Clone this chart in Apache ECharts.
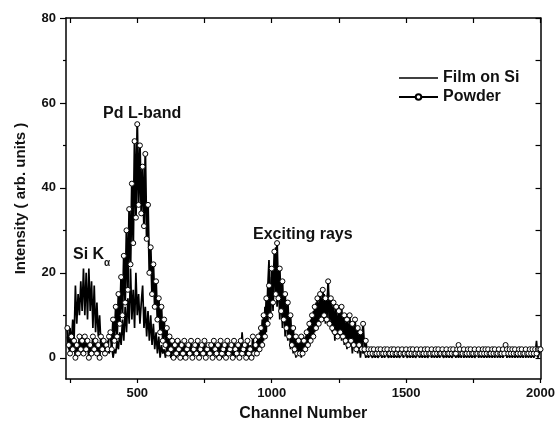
<!DOCTYPE html>
<html>
<head>
<meta charset="utf-8">
<script src="https://cdn.jsdelivr.net/npm/echarts@6/dist/echarts.min.js"></script>
<style>
    html, body { margin: 0; padding: 0; background: #fff; }
    #chart { width: 558px; height: 427px; }
</style>
</head>
<body>
<div id="chart"></div>
<script>
// channel grid of the spectra: first channel and spacing
var chStart = 240;
var chStep = 5;

// counts, rows of 100 channels (first row 240-295, last value is 2000)
var filmCounts = [
    5, 2, 7, 3, 9, 4, 17, 8, 15, 10, 18, 11,
    21, 10, 20, 9, 21, 11, 18, 7, 17, 6, 13, 5, 10, 3, 5, 1, 4, 2, 4, 1,
    1, 3, 0, 2, 1, 4, 2, 6, 3, 9, 4, 12, 6, 14, 8, 21, 9, 16, 7, 20,
    10, 15, 8, 13, 17, 7, 12, 5, 11, 4, 10, 3, 8, 2, 6, 1, 5, 0, 3, 1,
    2, 0, 3, 1, 2, 0, 2, 1, 3, 0, 2, 1, 4, 0, 2, 1, 3, 0, 2, 1,
    3, 0, 2, 1, 3, 0, 2, 0, 3, 1, 2, 0, 3, 1, 2, 0, 3, 1, 2, 0,
    2, 1, 3, 0, 2, 1, 3, 0, 2, 1, 3, 0, 2, 0, 3, 1, 2, 1, 6, 1,
    3, 0, 2, 1, 3, 1, 2, 1, 2, 4, 1, 6, 3, 9, 4, 12, 6, 16, 23, 9,
    19, 11, 22, 26, 12, 18, 9, 15, 7, 13, 5, 11, 4, 9, 2, 6, 1, 4, 0, 3,
    1, 4, 0, 3, 1, 5, 2, 7, 3, 9, 5, 11, 6, 13, 7, 12, 8, 14, 9, 15,
    8, 13, 16, 9, 12, 6, 11, 4, 10, 5, 9, 12, 4, 8, 3, 7, 2, 8, 3, 6,
    1, 5, 2, 6, 1, 4, 0, 3, 1, 2, 0, 1, 0, 1, 1, 0, 1, 0, 1, 0,
    0, 1, 0, 1, 0, 1, 1, 0, 1, 0, 1, 0, 1, 0, 1, 0, 0, 1, 0, 1,
    1, 0, 1, 0, 1, 0, 1, 0, 0, 1, 0, 1, 0, 1, 0, 1, 0, 0, 1, 0,
    1, 0, 1, 0, 1, 0, 1, 1, 0, 1, 0, 1, 0, 1, 0, 0, 1, 0, 1, 0,
    1, 0, 2, 0, 1, 0, 1, 0, 1, 0, 1, 0, 0, 1, 0, 1, 0, 1, 0, 1,
    0, 1, 0, 1, 0, 1, 0, 2, 0, 1, 0, 1, 0, 1, 2, 0, 1, 0, 1, 0,
    1, 0, 1, 0, 1, 0, 1, 0, 2, 0, 1, 0, 1, 0, 1, 0, 1, 4, 0, 1,
    2
];

var powderCounts = [
    7, 3, 1, 5, 2, 4, 0, 3, 1, 5, 2, 4,
    1, 5, 2, 4, 0, 3, 1, 5, 2, 4, 1, 3, 0, 5, 2, 4, 1, 3, 2, 5,
    6, 2, 9, 4, 12, 5, 15, 8, 19, 10, 24, 13, 30, 16, 35, 22, 41, 27, 51, 33,
    55, 36, 50, 34, 45, 31, 48, 28, 36, 20, 26, 15, 22, 12, 18, 9, 14, 6, 12, 4,
    9, 3, 7, 1, 5, 2, 4, 0, 3, 1, 4, 2, 0, 3, 1, 4, 0, 2, 3, 1,
    4, 0, 2, 3, 1, 4, 0, 2, 3, 1, 4, 0, 2, 3, 1, 3, 0, 4, 2, 1,
    3, 0, 4, 1, 2, 3, 0, 4, 1, 2, 3, 0, 4, 2, 1, 3, 0, 4, 1, 2,
    3, 0, 4, 1, 2, 0, 5, 1, 3, 1, 5, 2, 7, 3, 10, 5, 14, 8, 17, 10,
    21, 13, 25, 15, 27, 14, 21, 11, 18, 9, 15, 7, 13, 5, 10, 3, 7, 2, 5, 1,
    4, 1, 5, 1, 4, 2, 6, 3, 8, 4, 10, 5, 12, 7, 14, 8, 15, 9, 16, 10,
    14, 9, 18, 8, 14, 7, 13, 6, 12, 5, 11, 6, 12, 5, 10, 4, 9, 3, 10, 4,
    8, 3, 9, 2, 7, 3, 6, 2, 8, 2, 4, 1, 2, 1, 2, 1, 2, 1, 1, 2,
    1, 2, 1, 1, 2, 1, 2, 1, 1, 2, 1, 2, 1, 1, 2, 1, 1, 2, 1, 1,
    2, 1, 1, 2, 1, 2, 1, 1, 2, 1, 1, 2, 1, 1, 2, 1, 2, 1, 1, 2,
    1, 1, 2, 1, 2, 1, 1, 2, 1, 1, 2, 1, 1, 2, 1, 2, 1, 1, 2, 3,
    2, 1, 1, 2, 1, 1, 2, 1, 2, 1, 1, 2, 1, 1, 2, 1, 1, 2, 1, 2,
    1, 2, 1, 1, 2, 1, 2, 1, 1, 2, 1, 1, 2, 1, 3, 2, 1, 2, 1, 2,
    1, 2, 1, 1, 2, 1, 2, 1, 1, 2, 1, 1, 2, 1, 2, 1, 2, 1, 2, 2,
    2
];

// axis ticks and labels
var xTicks = [250, 500, 750, 1000, 1250, 1500, 1750, 2000];
var xLabels = [500, 1000, 1500, 2000];
var yMajor = [0, 20, 40, 60, 80];
var yMinor = [10, 30, 50, 70];
var yAll = [0, 10, 20, 30, 40, 50, 60, 70, 80];

var xMin = 235, xMax = 2000, yMin = -5, yMax = 80;
var font = '"Liberation Sans", Arial, sans-serif';

var toPairs = function (counts) {
    return counts.map(function (v, i) {
        return [chStart + i * chStep, v];
    });
};

var plain = function (v) {
    return String(v);
};

var frameAxis = function (extra) {
    var base = {
        type: 'value',
        splitLine: {show: false},
        axisLine: {show: true, onZero: false, lineStyle: {color: '#000', width: 1.5}},
        axisTick: {show: false},
        axisLabel: {show: false}
    };
    return echarts.util.merge(base, extra, true);
};

var chart = echarts.init(document.getElementById('chart'), null, {renderer: 'canvas'});

chart.setOption({
    animation: false,
    backgroundColor: '#fff',
    grid: {left: 66, right: 15, top: 18, bottom: 44},
    legend: {
        left: 398,
        top: 70,
        orient: 'vertical',
        padding: 0,
        itemGap: 3,
        itemWidth: 39,
        itemHeight: 7,
        data: [
            // film has no markers: hide the circle the legend would add
            {name: 'Film on Si', itemStyle: {opacity: 0}, lineStyle: {width: 1.4, color: '#000', opacity: 1}},
            {name: 'Powder'}
        ],
        textStyle: {fontFamily: font, fontWeight: 'bold', fontSize: 16, color: '#111'}
    },
    xAxis: [
        frameAxis({
            position: 'bottom',
            min: xMin, max: xMax,
            name: 'Channel Number',
            nameLocation: 'middle',
            nameGap: 27,
            nameTextStyle: {fontFamily: font, fontWeight: 'bold', fontSize: 16, color: '#111'},
            axisTick: {show: true, inside: false, length: 4, customValues: xTicks, lineStyle: {color: '#000', width: 1.2}},
            axisLabel: {show: true, margin: 8, customValues: xLabels, formatter: plain, fontFamily: font, fontWeight: 'bold', fontSize: 13, color: '#111'}
        }),
        frameAxis({
            position: 'top',
            min: xMin, max: xMax,
            axisTick: {show: true, inside: true, length: 5, customValues: xTicks, lineStyle: {color: '#000', width: 1.2}}
        })
    ],
    yAxis: [
        frameAxis({
            position: 'left',
            min: yMin, max: yMax,
            name: 'Intensity ( arb. units )',
            nameLocation: 'middle',
            nameGap: 38,
            nameTextStyle: {fontFamily: font, fontWeight: 'bold', fontSize: 15, color: '#111'},
            axisTick: {show: true, inside: false, length: 6, customValues: yMajor, lineStyle: {color: '#000', width: 1.2}},
            axisLabel: {show: true, margin: 10, customValues: yMajor, formatter: plain, fontFamily: font, fontWeight: 'bold', fontSize: 13, color: '#111'}
        }),
        frameAxis({
            position: 'left',
            min: yMin, max: yMax,
            axisLine: {show: false},
            axisTick: {show: true, inside: false, length: 3, customValues: yMinor, lineStyle: {color: '#000', width: 1.2}}
        }),
        frameAxis({
            position: 'right',
            min: yMin, max: yMax,
            axisTick: {show: true, inside: true, length: 5, customValues: yAll, lineStyle: {color: '#000', width: 1.2}}
        })
    ],
    series: [
        {
            name: 'Film on Si',
            type: 'line',
            xAxisIndex: 0,
            yAxisIndex: 0,
            showSymbol: false,
            symbol: 'none',
            lineStyle: {color: '#000', width: 1.7},
            itemStyle: {color: '#000'},
            data: toPairs(filmCounts)
        },
        {
            name: 'Powder',
            type: 'line',
            xAxisIndex: 0,
            yAxisIndex: 0,
            symbol: 'circle',
            symbolSize: 5,
            showSymbol: true,
            lineStyle: {color: '#000', width: 2},
            itemStyle: {color: '#fff', borderColor: '#000', borderWidth: 1},
            data: toPairs(powderCounts)
        }
    ],
    // peak labels
    graphic: [
        {type: 'text', left: 103, top: 106, style: {text: 'Pd L-band', fontFamily: font, fontWeight: 'bold', fontSize: 16, fill: '#111'}},
        {type: 'text', left: 73, top: 247, style: {text: 'Si K', fontFamily: font, fontWeight: 'bold', fontSize: 16, fill: '#111'}},
        {type: 'text', left: 104, top: 258, style: {text: 'α', fontFamily: font, fontWeight: 'bold', fontSize: 10, fill: '#111'}},
        {type: 'text', left: 253, top: 227, style: {text: 'Exciting rays', fontFamily: font, fontWeight: 'bold', fontSize: 16, fill: '#111'}}
    ]
});
</script>
</body>
</html>
